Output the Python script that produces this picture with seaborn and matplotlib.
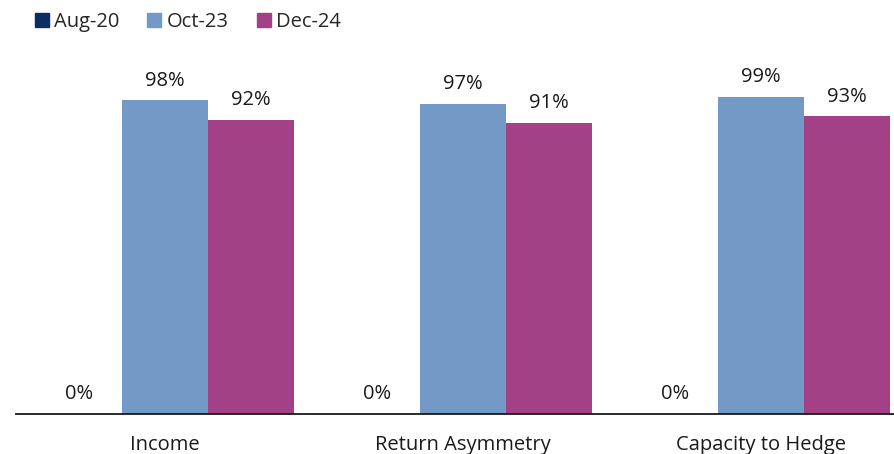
import matplotlib
matplotlib.use("Agg")
import matplotlib.pyplot as plt
from matplotlib.lines import Line2D
import seaborn as sns
import pandas as pd

categories = ["Income", "Return Asymmetry", "Capacity to Hedge"]
series_names = ["Aug-20", "Oct-23", "Dec-24"]
aug20 = [0, 0, 0]
oct23 = [98, 97, 99]
dec24 = [92, 91, 93]
colors = ["#0B2D63", "#7399C6", "#A34187"]

df = pd.DataFrame({
    "category": categories * 3,
    "series": [s for s in series_names for _ in categories],
    "value": aug20 + oct23 + dec24,
})

sns.set_theme(style="white")
plt.rcParams["font.family"] = ["Open Sans", "DejaVu Sans"]

fig = plt.figure(figsize=(8.95, 4.54), dpi=100)
ax = fig.add_axes([16 / 895, 1 - 414 / 454, 1 - 16 / 895, (414 - 60) / 454])

sns.barplot(data=df, x="category", y="value", hue="series", order=categories,
            hue_order=series_names, palette=colors, width=0.866, saturation=1,
            linewidth=0, legend=False, ax=ax)

for container in ax.containers:
    ax.bar_label(container, labels=[f"{v:.0f}%" for v in container.datavalues],
                 padding=7, fontsize=14.5, color="#1a1a1a")

ax.set_xlim(-0.5, 2.45)
ax.set_ylim(0, 110.6)
ax.set_xlabel("")
ax.set_ylabel("")
ax.set_yticks([])
for side in ["top", "right", "left"]:
    ax.spines[side].set_visible(False)
ax.spines["bottom"].set_color("#1a1a1a")
ax.spines["bottom"].set_linewidth(1.3)
ax.tick_params(axis="x", length=0, pad=15, labelsize=14.5, labelcolor="#1a1a1a")

handles = [Line2D([0], [0], marker="s", linestyle="", markersize=9.5,
                  markerfacecolor=c, markeredgecolor=c) for c in colors]
fig.legend(handles, series_names, loc="upper left", bbox_to_anchor=(0.023, 1.0),
           ncol=3, frameon=False, fontsize=14.5, handletextpad=0.15,
           columnspacing=1.3, handlelength=0.9, borderaxespad=0.2)

fig.savefig("out.png", dpi=100)
